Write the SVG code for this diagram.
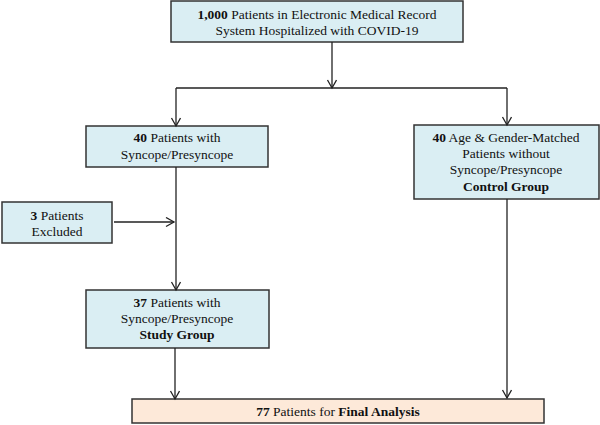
<svg xmlns="http://www.w3.org/2000/svg" width="600" height="425" viewBox="0 0 600 425" font-family="Liberation Serif, Times New Roman, serif">
<defs>
<marker id="arr" markerUnits="userSpaceOnUse" markerWidth="12" markerHeight="12" refX="9" refY="5" orient="auto">
<path d="M1,0.5 L9,5 L1,9.5" fill="none" stroke="#222" stroke-width="1.3"/>
</marker>
<style>
.blue{fill:#daeef3;stroke:#333;stroke-width:1.5}
.peach{fill:#fde9d9;stroke:#333;stroke-width:1.5}
text{font-family:'Liberation Serif','Times New Roman',serif;font-size:13.5px;fill:#111;text-anchor:middle}
.b{font-weight:bold}
.c line{stroke:#222;stroke-width:1.3;fill:none}
.c line.a{marker-end:url(#arr)}
</style>
</defs>
<rect width="600" height="425" fill="#fff"/>
<g id="n_top">
<rect class="blue" x="171" y="1" width="292" height="41"/>
<text x="317" y="18.5"><tspan class="b">1,000</tspan> Patients in Electronic Medical Record</text>
<text x="317" y="35">System Hospitalized with COVID-19</text>
</g>
<g id="n_40">
<rect class="blue" x="86" y="126" width="182" height="41"/>
<text x="177" y="142"><tspan class="b">40</tspan> Patients with</text>
<text x="177" y="159">Syncope/Presyncope</text>
</g>
<g id="n_excl">
<rect class="blue" x="2" y="202" width="110" height="41"/>
<text x="57" y="220"><tspan class="b">3</tspan> Patients</text>
<text x="57" y="236">Excluded</text>
</g>
<g id="n_control">
<rect class="blue" x="414" y="125" width="185" height="74"/>
<text x="506" y="142"><tspan class="b">40</tspan> Age &amp; Gender-Matched</text>
<text x="506" y="158">Patients without</text>
<text x="506" y="174">Syncope/Presyncope</text>
<text x="506" y="191" class="b">Control Group</text>
</g>
<g id="n_study">
<rect class="blue" x="86" y="290" width="183" height="58"/>
<text x="177" y="307"><tspan class="b">37</tspan> Patients with</text>
<text x="177" y="323">Syncope/Presyncope</text>
<text x="177" y="339" class="b">Study Group</text>
</g>
<g id="n_final">
<rect class="peach" x="132" y="399" width="412" height="24"/>
<text x="338" y="415.5"><tspan class="b">77</tspan> Patients for <tspan class="b">Final Analysis</tspan></text>
</g>
<g id="connectors" class="c">
<line class="a" x1="332" y1="42" x2="332" y2="88"/>
<line x1="176" y1="88" x2="507" y2="88"/>
<line class="a" x1="176" y1="88" x2="176" y2="126"/>
<line class="a" x1="507" y1="88" x2="507" y2="125"/>
<line class="a" x1="176" y1="167" x2="176" y2="290"/>
<line class="a" x1="114" y1="222" x2="174" y2="222"/>
<line class="a" x1="175" y1="348" x2="175" y2="399"/>
<line class="a" x1="507" y1="199" x2="507" y2="398"/>
</g>
</svg>
